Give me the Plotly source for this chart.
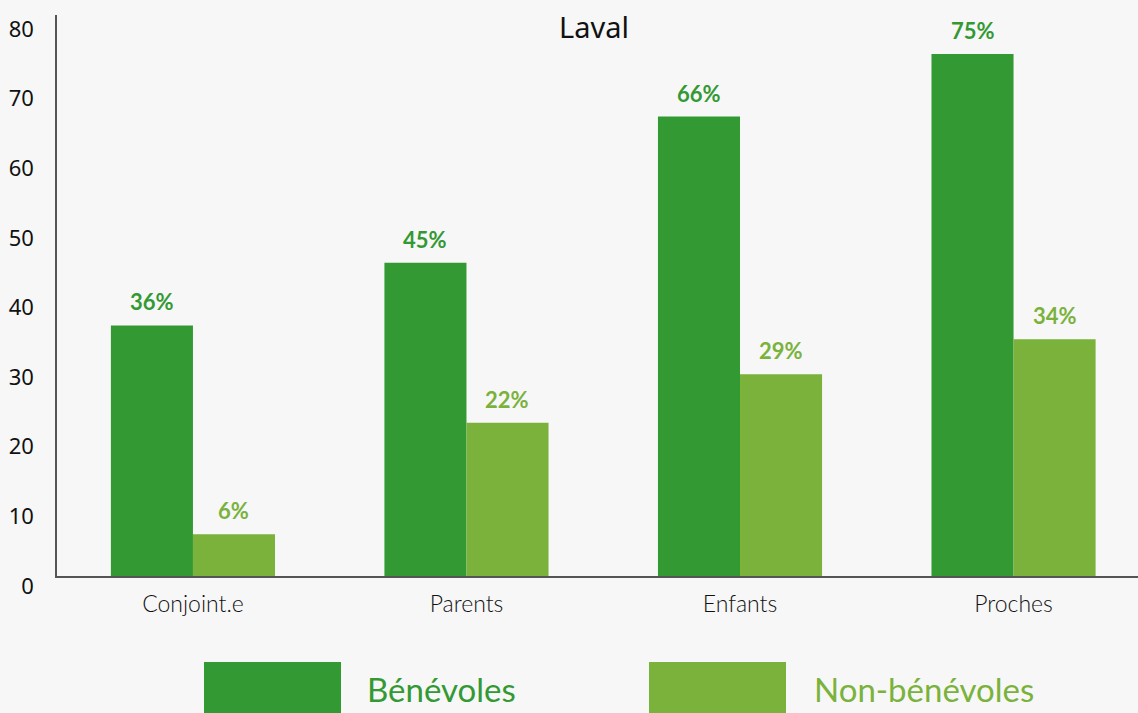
import plotly.graph_objects as go

# données
categories = ["Conjoint.e", "Parents", "Enfants", "Proches"]
benevoles = [36, 45, 66, 75]
non_benevoles = [6, 22, 29, 34]
series_names = ["Bénévoles", "Non-bénévoles"]
y_ticks = [0, 10, 20, 30, 40, 50, 60, 70, 80]

DARK = "#339933"
LIGHT = "#7ab23c"
BG = "#f7f7f7"

fig = go.Figure()

for name, vals, col in [(series_names[0], benevoles, DARK),
                        (series_names[1], non_benevoles, LIGHT)]:
    fig.add_trace(go.Bar(
        x=categories, y=vals, name=name,
        marker=dict(color=col, line=dict(width=0)),
        showlegend=False,
    ))

# étiquettes au-dessus des barres
for i, cat in enumerate(categories):
    for vals, col, shift in [(benevoles, DARK, -41), (non_benevoles, LIGHT, 41)]:
        fig.add_annotation(
            x=cat, y=vals[i], text=f"{vals[i]}%", showarrow=False,
            xshift=shift, yshift=8, yanchor="bottom",
            font=dict(family="Lato", size=22, color=col, weight="bold"),
        )

# légende manuelle (grands carrés)
legend_items = [(series_names[0], DARK, 204, 341, 365),
                (series_names[1], LIGHT, 649, 786, 812)]
W, H = 1138, 713
ml, mb, mt = 57, 137, 15
pw, ph = W - ml, H - mb - mt
for name, col, x0, x1, tx in legend_items:
    fig.add_shape(type="rect", xref="paper", yref="paper",
                  x0=(x0 - ml) / pw, x1=(x1 - ml) / pw,
                  y0=(H - mb - 720) / ph, y1=(H - mb - 662) / ph,
                  fillcolor=col, line=dict(width=0), layer="above")
    fig.add_annotation(xref="paper", yref="paper",
                       x=(tx - ml) / pw, y=(H - mb - 689) / ph,
                       xanchor="left", yanchor="middle", showarrow=False,
                       text=name, font=dict(family="Lato", size=33, color=col))

fig.update_layout(
    width=W, height=H,
    margin=dict(l=ml, r=0, t=mt, b=mb),
    paper_bgcolor=BG, plot_bgcolor=BG,
    barmode="group", bargap=0.4, bargroupgap=0,
    title=dict(text="Laval", x=594 / W, y=1 - 28 / H,
               xanchor="center", yanchor="middle",
               font=dict(family="Noto Sans", size=29, color="#111")),
    font=dict(family="Noto Sans", color="#111"),
)
fig.update_xaxes(
    range=[-0.497, 3.455], showline=True, linecolor="#555", linewidth=1.5,
    showgrid=False, ticks="", automargin=False,
    tickfont=dict(family="Lato", size=23, color="#111", weight=300),
    ticklabelstandoff=7,
)
fig.update_yaxes(
    range=[0, 80.6], tickvals=y_ticks, showline=True, linecolor="#555", linewidth=1.5,
    showgrid=False, zeroline=False, ticks="", automargin=False,
    tickfont=dict(family="Noto Sans", size=22, color="#111"),
    ticklabelstandoff=17, ticklabelshift=10, ticklabeloverflow="allow",
)

fig.write_html("out.html", config={"displayModeBar": False},
               post_script="document.body.style.margin='0px';")
